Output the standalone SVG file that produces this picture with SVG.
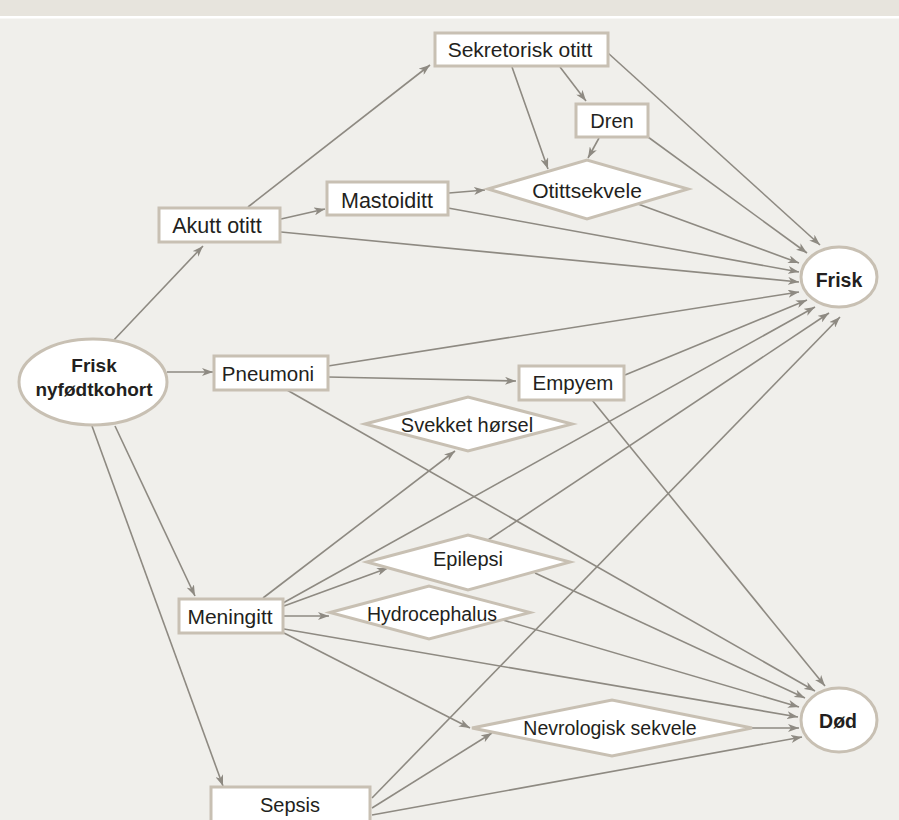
<svg xmlns="http://www.w3.org/2000/svg" width="899" height="820" viewBox="0 0 899 820">
<style>
.node{fill:#ffffff;stroke:#c8c0b3;stroke-width:3}
.lbl{font-family:"Liberation Sans",Arial,sans-serif;font-size:20.5px;fill:#231f20;text-anchor:middle}
.b{font-weight:bold;font-size:19px}
.e{fill:none;stroke:#8e8a82;stroke-width:1.6;marker-end:url(#ah)}
</style>
<defs>
<marker id="ah" viewBox="0 0 11 8" refX="11" refY="4" markerWidth="11" markerHeight="8" markerUnits="userSpaceOnUse" orient="auto">
<path d="M0,0 L11,4 L0,8 L3,4 z" fill="#8e8a82"/>
</marker>
</defs>
<rect x="0" y="0" width="899" height="820" fill="#f0efeb"/>
<rect x="0" y="0" width="899" height="16" fill="#e7e4dd"/>
<rect x="0" y="16" width="899" height="2.5" fill="#ffffff"/>
<g id="connectors">
<line class="e" x1="113" y1="341" x2="203" y2="246"/>
<line class="e" x1="167" y1="372" x2="213" y2="372"/>
<line class="e" x1="115" y1="426" x2="195" y2="596"/>
<line class="e" x1="92" y1="426" x2="223" y2="786"/>
<line class="e" x1="248" y1="207" x2="430" y2="65"/>
<line class="e" x1="281" y1="219" x2="325" y2="209"/>
<line class="e" x1="281" y1="232" x2="799" y2="282"/>
<line class="e" x1="560" y1="67" x2="586" y2="101"/>
<line class="e" x1="512" y1="67" x2="548" y2="169"/>
<line class="e" x1="608" y1="53" x2="820" y2="245"/>
<line class="e" x1="599" y1="138" x2="588" y2="158"/>
<line class="e" x1="648" y1="137" x2="807" y2="253"/>
<line class="e" x1="449" y1="193" x2="485" y2="190"/>
<line class="e" x1="448" y1="208" x2="799" y2="272"/>
<line class="e" x1="638" y1="204" x2="799" y2="263"/>
<line class="e" x1="328" y1="366" x2="799" y2="292"/>
<line class="e" x1="328" y1="377" x2="516" y2="381"/>
<line class="e" x1="287" y1="390" x2="815" y2="691"/>
<line class="e" x1="625" y1="375" x2="807" y2="300"/>
<line class="e" x1="592" y1="400" x2="825" y2="686"/>
<line class="e" x1="263" y1="598" x2="455" y2="451"/>
<line class="e" x1="283" y1="603" x2="815" y2="307"/>
<line class="e" x1="284" y1="606" x2="388" y2="568"/>
<line class="e" x1="284" y1="616" x2="329" y2="616"/>
<line class="e" x1="284" y1="629" x2="798" y2="717"/>
<line class="e" x1="284" y1="633" x2="470" y2="728"/>
<line class="e" x1="488" y1="540" x2="829" y2="313"/>
<line class="e" x1="535" y1="573" x2="805" y2="698"/>
<line class="e" x1="503" y1="620" x2="799" y2="707"/>
<line class="e" x1="752" y1="728" x2="799" y2="728"/>
<line class="e" x1="372" y1="798" x2="840" y2="317"/>
<line class="e" x1="372" y1="808" x2="492" y2="733"/>
<line class="e" x1="372" y1="815" x2="802" y2="737"/>
</g>
<g id="n-frisk-nyfodt"><ellipse class="node" cx="93" cy="382" rx="74" ry="43"/><text class="lbl b" x="94" y="372">Frisk</text><text class="lbl b" x="94" y="396">nyfødtkohort</text></g>
<g id="n-akutt"><rect class="node" x="159" y="208" width="121" height="34"/><text class="lbl" x="217" y="233" style="font-size:21.5px">Akutt otitt</text></g>
<g id="n-sekretorisk"><rect class="node" x="435" y="33" width="173" height="33"/><text class="lbl" x="520" y="57" style="font-size:21px">Sekretorisk otitt</text></g>
<g id="n-dren"><rect class="node" x="576" y="104" width="72" height="33"/><text class="lbl" x="612" y="128" style="font-size:20px">Dren</text></g>
<g id="n-mastoiditt"><rect class="node" x="327" y="182" width="121" height="33"/><text class="lbl" x="387" y="207.5" style="font-size:21.5px">Mastoiditt</text></g>
<g id="n-otittsekvele"><polygon class="node" points="488,189 587,160 688,189 587,219"/><text class="lbl" x="587" y="197.5" style="font-size:21px">Otittsekvele</text></g>
<g id="n-pneumoni"><rect class="node" x="214" y="356" width="114" height="34"/><text class="lbl" x="268" y="380.5">Pneumoni</text></g>
<g id="n-empyem"><rect class="node" x="519" y="366" width="105" height="34"/><text class="lbl" x="573" y="390">Empyem</text></g>
<g id="n-svekket"><polygon class="node" points="365,424 468,397 572,424 468,451"/><text class="lbl" x="467" y="431.5" style="font-size:20px">Svekket hørsel</text></g>
<g id="n-epilepsi"><polygon class="node" points="367,562 468,535 570,562 468,590"/><text class="lbl" x="468" y="566" style="font-size:20px">Epilepsi</text></g>
<g id="n-hydro"><polygon class="node" points="330,612.5 429,586 530,612.5 429,639"/><text class="lbl" x="432" y="621" style="font-size:19.5px">Hydrocephalus</text></g>
<g id="n-meningitt"><rect class="node" x="179" y="599" width="104" height="34"/><text class="lbl" x="230" y="624" style="font-size:21px">Meningitt</text></g>
<g id="n-nevrologisk"><polygon class="node" points="472,728 612,700 752,728 612,756"/><text class="lbl" x="610" y="735" style="font-size:19.5px">Nevrologisk sekvele</text></g>
<g id="n-sepsis"><rect class="node" x="211" y="787" width="159" height="36"/><text class="lbl" x="290" y="811.5" style="font-size:20px">Sepsis</text></g>
<g id="n-frisk"><ellipse class="node" cx="839" cy="277" rx="38" ry="30"/><text class="lbl b" x="839" y="287" style="font-size:19.5px">Frisk</text></g>
<g id="n-dod"><ellipse class="node" cx="839" cy="720" rx="38" ry="32"/><text class="lbl b" x="838" y="727.5" style="font-size:19.5px">Død</text></g>
</svg>
